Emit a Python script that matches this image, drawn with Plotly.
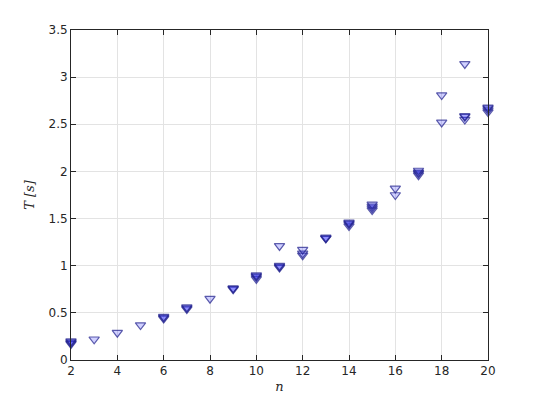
import plotly.graph_objects as go

# number of nodes n, one entry per run (repeated runs overlap at each n)
n_values = [
    2, 2, 2, 2,
    3,
    4,
    5,
    6, 6, 6,
    7, 7, 7,
    8,
    9, 9, 9,
    10, 10, 10, 10,
    11, 11, 11, 11,
    12, 12, 12,
    13, 13, 13,
    14, 14, 14, 14,
    15, 15, 15, 15,
    16, 16,
    17, 17, 17, 17,
    18, 18,
    19, 19, 19, 19,
    20, 20, 20, 20,
]
# measured time T [s]
t_values = [
    0.17, 0.18, 0.19, 0.20,
    0.22,
    0.29,
    0.37,
    0.44, 0.45, 0.46,
    0.54, 0.55, 0.56,
    0.65,
    0.75, 0.76, 0.76,
    0.86, 0.88, 0.89, 0.90,
    0.98, 0.99, 1.00, 1.21,
    1.11, 1.13, 1.17,
    1.29, 1.29, 1.30,
    1.42, 1.44, 1.45, 1.46,
    1.59, 1.61, 1.63, 1.65,
    1.75, 1.82,
    1.96, 1.98, 1.99, 2.01,
    2.52, 2.81,
    2.55, 2.58, 2.59, 3.14,
    2.63, 2.65, 2.67, 2.68,
]

x_ticks = [2, 4, 6, 8, 10, 12, 14, 16, 18, 20]
y_ticks = [0, 0.5, 1, 1.5, 2, 2.5, 3, 3.5]

fig = go.Figure()
fig.add_trace(
    go.Scatter(
        x=n_values,
        y=t_values,
        mode="markers",
        marker=dict(
            symbol="triangle-down",
            size=9,
            color="rgba(40,40,255,0.22)",
            line=dict(color="rgba(35,35,140,0.72)", width=1.2),
        ),
        cliponaxis=False,
        showlegend=False,
    )
)

axis_style = dict(
    showline=True,
    linecolor="#262626",
    linewidth=1,
    mirror="ticks",
    ticks="inside",
    ticklen=5,
    tickcolor="#262626",
    showgrid=True,
    gridcolor="#e3e3e3",
    gridwidth=1,
    zeroline=False,
    automargin=False,
    tickfont=dict(family="DejaVu Sans", size=12, color="#262626"),
)

fig.update_xaxes(
    range=[2, 20],
    tickvals=x_ticks,
    title=dict(text="<i>n</i>", font=dict(family="DejaVu Serif", size=13, color="#262626"), standoff=4),
    **axis_style,
)
fig.update_yaxes(
    range=[0, 3.5],
    tickvals=y_ticks,
    title=dict(text="<i>T [s]</i>", font=dict(family="DejaVu Serif", size=13, color="#262626"), standoff=10),
    **axis_style,
)

# the page body adds 8px, so the margins are shifted to keep the plot box in place
fig.update_layout(
    width=540,
    height=405,
    margin=dict(l=63, r=60, t=22, b=53),
    plot_bgcolor="white",
    paper_bgcolor="white",
)

fig.write_html("out.html")
